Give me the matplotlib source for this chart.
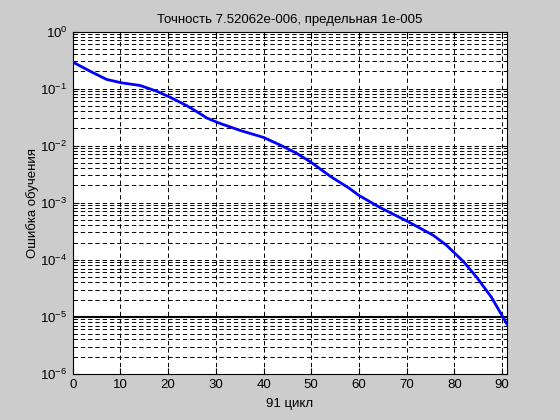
import matplotlib
matplotlib.use("Agg")
import matplotlib.pyplot as plt
import numpy as np
from matplotlib.ticker import LogLocator, FixedLocator

plt.rcParams['font.family'] = ['Liberation Sans', 'DejaVu Sans']
plt.rcParams['mathtext.fontset'] = 'custom'
plt.rcParams['mathtext.rm'] = 'Liberation Sans'
plt.rcParams['mathtext.it'] = 'Liberation Sans'

epochs = [0, 3.6, 7.1, 10.25, 14.1, 17.6, 20.4, 23.9, 26.3, 28.1, 30.5, 35.1, 40, 43.4,
          46.9, 50.1, 53.9, 58, 59.9, 64.4, 70, 75.6, 78.4, 82, 84.7, 87.8, 91]
log_err = [-0.536, -0.695, -0.84, -0.90, -0.946, -1.047, -1.152, -1.30, -1.42, -1.516,
           -1.60, -1.734, -1.857, -1.987, -2.133, -2.30, -2.533, -2.75, -2.868, -3.085,
           -3.32, -3.573, -3.75, -4.04, -4.31, -4.66, -5.124]
goal = 1e-5
title = "Точность 7.52062e-006, предельная 1e-005"
xlabel = "91 цикл"
ylabel = "Ошибка обучения"
xticks = [0, 10, 20, 30, 40, 50, 60, 70, 80, 90]

err = 10 ** np.array(log_err)

fig = plt.figure(figsize=(5.6, 4.2), dpi=100, facecolor='#cccccc')
ax = fig.add_axes([0.13, 0.11, 0.775, 0.815])
ax.set_facecolor('white')

ax.set_yscale('log')
ax.set_xlim(0, 91)
ax.set_ylim(1e-6, 1)

ax.plot(epochs, err, color='#0000ff', lw=2.0, zorder=3)
ax.axhline(goal, color='black', lw=1.5, zorder=2)

ax.set_xticks(xticks)
ax.yaxis.set_major_locator(FixedLocator([10.0**k for k in range(-6, 1)]))
ax.yaxis.set_minor_locator(LogLocator(base=10, subs=np.arange(2, 10), numticks=20))

ax.grid(True, which='major', axis='both', color='black', lw=0.7, ls=(0, (4.5, 3)))
ax.grid(True, which='minor', axis='y', color='black', lw=0.7, ls=(0, (4.5, 3)))
ax.set_axisbelow(True)

ax.tick_params(which='both', direction='in', top=True, right=True, labelsize=9.5, color='black')
ax.tick_params(which='major', length=4, pad=4)
ax.tick_params(which='minor', length=2)
for s in ax.spines.values():
    s.set_linewidth(0.8)

ax.set_title(title, fontsize=9.5, pad=6)
ax.set_xlabel(xlabel, fontsize=9.5)
ax.set_ylabel(ylabel, fontsize=9.5)
ax.yaxis.set_label_coords(-0.078, 0.5)
ax.xaxis.set_label_coords(0.5, -0.07)

fig.savefig('out.png', dpi=100, facecolor=fig.get_facecolor())
